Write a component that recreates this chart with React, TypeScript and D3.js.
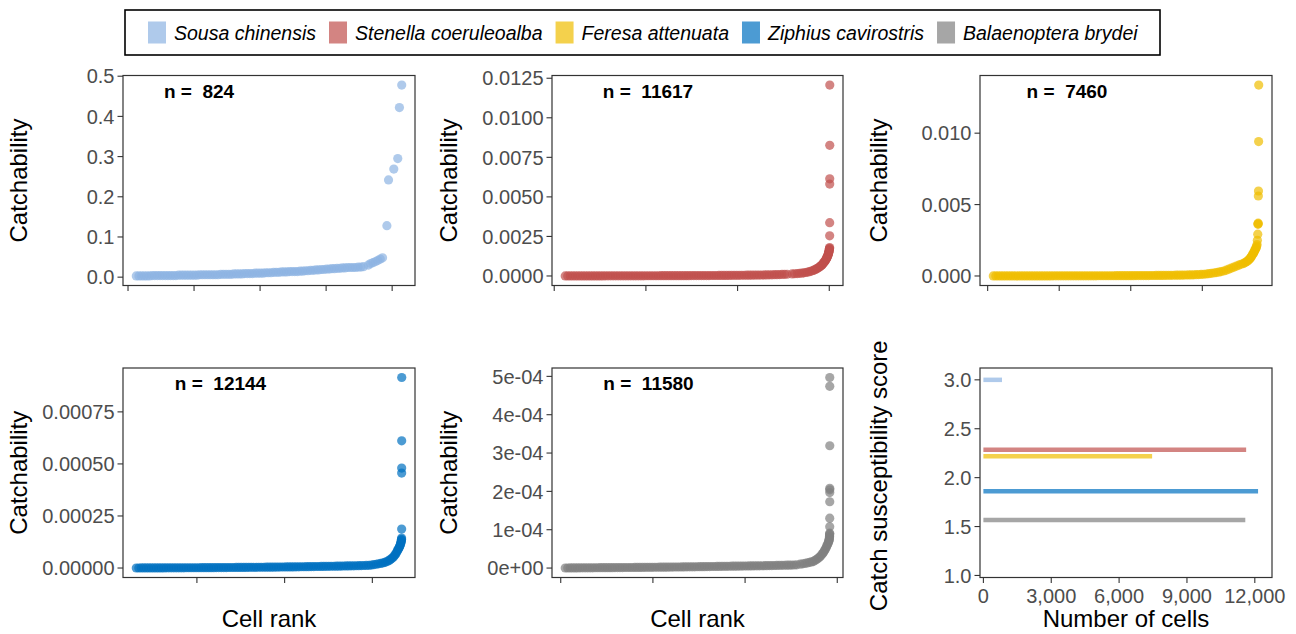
import React from "react";
import * as d3 from "d3";

// species, colours and the per-species totals
const species = [
  "Sousa chinensis",
  "Stenella coeruleoalba",
  "Feresa attenuata",
  "Ziphius cavirostris",
  "Balaenoptera brydei",
];
const colours = ["#8DB4E2", "#C0504D", "#F0BE00", "#0070C0", "#808080"];
const cellCounts = [824, 11617, 7460, 12144, 11580];
const susceptibility = [3.0, 2.286, 2.218, 1.861, 1.566];

// flat part of each ranked curve: readings taken at regular rank steps,
// values in `unit`s. The steep tail follows as explicit [rank, catchability] pairs.
const sousaBase = {
  start: 25, step: 8, unit: 0.001,
  values: [
    3, 3, 3, 3, 3, 3, 4, 4, 4, 4, 4, 4, 4, 4, 4, 4, 5, 5, 5, 5, 5, 5, 5, 5, 6, 6, 6, 6, 6, 6,
    6, 6, 7, 7, 7, 7, 7, 8, 8, 8, 8, 9, 9, 9, 9, 10, 10, 10, 10, 11, 11, 11, 12, 12, 12, 13,
    13, 13, 14, 14, 14, 14, 15, 15, 16, 16, 17, 17, 18, 18, 19, 19, 20, 20, 21, 21, 22, 22,
    23, 23, 24, 24, 24, 24, 25, 25, 26,
  ],
};
const sousaTail = [
  [728, 0.03], [735, 0.034], [742, 0.036], [750, 0.039], [757, 0.042], [764, 0.045],
  [771, 0.048], [784, 0.128], [789, 0.242], [805, 0.269], [817, 0.295], [822, 0.422],
  [829, 0.478],
];

const stenellaBase = {
  start: 480, step: 110, unit: 1e-6,
  values: [
    1, 1, 2, 2, 3, 3, 4, 4, 4, 4, 5, 5, 6, 6, 6, 6, 7, 7, 8, 8, 8, 8, 9, 9, 10, 10, 10, 10,
    11, 11, 12, 12, 13, 13, 14, 14, 15, 15, 16, 16, 17, 17, 18, 18, 19, 19, 20, 20, 21, 22,
    23, 23, 24, 25, 26, 26, 27, 28, 29, 30, 31, 32, 33, 34, 35, 36, 38, 39, 41, 42, 44, 46,
    48, 50, 52, 54, 57, 59, 62, 65, 68, 71, 75, 80, 85, 91, 97, 103, 110,
  ],
};
const stenellaTail = [
  [10380, 0.00013], [10490, 0.00014], [10600, 0.00015], [10700, 0.000165], [10800, 0.00018],
  [10890, 0.0002], [10980, 0.00022], [11060, 0.000245], [11140, 0.00027], [11220, 0.00031],
  [11300, 0.00035], [11360, 0.00039], [11420, 0.00043], [11470, 0.00047], [11520, 0.00052],
  [11570, 0.00056], [11610, 0.00061], [11650, 0.00066], [11680, 0.0007], [11710, 0.00075],
  [11740, 0.0008], [11765, 0.00085], [11790, 0.0009], [11815, 0.00095], [11840, 0.001],
  [11860, 0.00105], [11880, 0.0011], [11895, 0.00115], [11910, 0.0012], [11925, 0.00125],
  [11940, 0.0013], [11950, 0.00135], [11960, 0.0014], [11970, 0.00145], [11980, 0.0015],
  [11988, 0.00155], [11995, 0.0016], [12000, 0.00165], [12005, 0.0017], [12010, 0.00175],
  [12015, 0.0018], [12017, 0.00254], [12018, 0.00337], [12019, 0.00581], [12020, 0.00614],
  [12021, 0.00826], [12022, 0.01207],
];

const feresaBase = {
  start: 157, step: 70, unit: 1e-6,
  values: [
    2, 2, 2, 2, 3, 3, 3, 3, 4, 4, 4, 4, 5, 5, 5, 5, 6, 6, 6, 6, 7, 7, 7, 7, 8, 8, 8, 8, 9, 9,
    10, 10, 10, 10, 11, 11, 12, 12, 13, 13, 14, 14, 15, 15, 16, 16, 17, 17, 18, 19, 20, 20,
    21, 22, 23, 24, 25, 26, 27, 28, 29, 30, 32, 33, 35, 36, 38, 40, 42, 44, 46, 48, 51, 54,
    57, 60, 64, 68, 72, 77, 82, 90, 98,
  ],
};
const feresaTail = [
  [5967, 0.00011], [6037, 0.00012], [6107, 0.00014], [6177, 0.00016], [6247, 0.000185],
  [6317, 0.00021], [6387, 0.00024], [6457, 0.00027], [6527, 0.00031], [6597, 0.00035],
  [6667, 0.00041], [6737, 0.00048], [6807, 0.00055], [6877, 0.00062], [6947, 0.00069],
  [7017, 0.00076], [7080, 0.00082], [7147, 0.00087], [7185, 0.00092], [7220, 0.00098],
  [7255, 0.00104], [7287, 0.0011], [7315, 0.00118], [7340, 0.00125], [7360, 0.00132],
  [7381, 0.0014], [7400, 0.00148], [7420, 0.00155], [7435, 0.00162], [7450, 0.0017],
  [7465, 0.00178], [7480, 0.00185], [7495, 0.00192], [7510, 0.002], [7520, 0.0021],
  [7530, 0.0022], [7540, 0.0025], [7550, 0.00293], [7556, 0.00362], [7558, 0.00365],
  [7562, 0.0037], [7566, 0.0056], [7570, 0.00595], [7574, 0.00941], [7577, 0.01337],
];

const ziphiusBase = {
  start: 1235, step: 114, unit: 1e-7,
  values: [
    2, 2, 3, 3, 4, 4, 5, 5, 6, 6, 7, 7, 8, 8, 9, 9, 10, 10, 11, 11, 12, 12, 13, 13, 14, 14,
    15, 15, 16, 17, 18, 19, 20, 20, 21, 22, 23, 24, 25, 26, 27, 28, 29, 30, 31, 32, 33, 34,
    35, 36, 37, 38, 40, 41, 42, 43, 45, 46, 48, 49, 51, 52, 54, 55, 57, 58, 60, 62, 64, 66,
    68, 70, 72, 74, 76, 78, 80, 82, 84, 86, 89, 91, 94, 96, 99, 101, 104, 107, 110, 113,
    117, 121, 125,
  ],
};
const ziphiusTail = [
  [11840, 0.000013], [11950, 0.000014], [12060, 0.000016], [12170, 0.000018],
  [12275, 0.00002], [12380, 0.000022], [12470, 0.000024], [12560, 0.000027],
  [12640, 0.00003], [12720, 0.000034], [12790, 0.000038], [12850, 0.000043],
  [12905, 0.000048], [12960, 0.000053], [13005, 0.000059], [13050, 0.000065],
  [13085, 0.000071], [13120, 0.000078], [13150, 0.000084], [13180, 0.00009],
  [13205, 0.000095], [13230, 0.0001], [13250, 0.000105], [13270, 0.00011],
  [13285, 0.000115], [13300, 0.00012], [13310, 0.000125], [13320, 0.00013],
  [13325, 0.000134], [13330, 0.000138], [13335, 0.000144], [13336, 0.000187],
  [13337, 0.000456], [13338, 0.00048], [13339, 0.000611], [13340, 0.000915],
];

const balaenopteraBase = {
  start: 195, step: 108, unit: 1e-7,
  values: [
    2, 2, 3, 3, 4, 4, 5, 5, 6, 6, 7, 7, 8, 8, 9, 9, 10, 10, 11, 11, 12, 12, 13, 13, 14, 14,
    15, 15, 16, 16, 17, 17, 18, 19, 20, 20, 21, 21, 22, 23, 24, 24, 25, 26, 27, 27, 28, 29,
    30, 31, 32, 32, 33, 34, 35, 36, 37, 38, 39, 40, 41, 42, 43, 44, 45, 46, 47, 48, 49, 50,
    51, 52, 53, 54, 55, 56, 57, 58, 59, 60, 61, 62, 64, 65, 67, 68, 70, 71, 73, 74, 76, 78,
    80,
  ],
};
const balaenopteraTail = [
  [10240, 0.0000085], [10390, 0.00001], [10500, 0.000011], [10600, 0.000012],
  [10700, 0.0000135], [10800, 0.000015], [10880, 0.000016], [10958, 0.000017],
  [11030, 0.00002], [11100, 0.000022], [11160, 0.000025], [11220, 0.000028],
  [11270, 0.000031], [11322, 0.000035], [11370, 0.000038], [11410, 0.000042],
  [11445, 0.000045], [11480, 0.000049], [11510, 0.000052], [11539, 0.000056],
  [11565, 0.00006], [11590, 0.000063], [11610, 0.000066], [11625, 0.000069],
  [11640, 0.000071], [11652, 0.000074], [11658, 0.000077], [11662, 0.00008],
  [11665, 0.000083], [11668, 0.000086], [11670, 0.000089], [11672, 0.000091],
  [11673, 0.000108], [11673, 0.00013], [11674, 0.000173], [11674, 0.000197],
  [11674, 0.000204], [11675, 0.000208], [11675, 0.000319], [11675, 0.000474],
  [11675, 0.000497],
];

// tick values / labels
const sousaYTicks = [0, 0.1, 0.2, 0.3, 0.4, 0.5];
const stenellaYTicks = [0, 0.0025, 0.005, 0.0075, 0.01, 0.0125];
const feresaYTicks = [0, 0.005, 0.01];
const ziphiusYTicks = [0, 0.00025, 0.0005, 0.00075];
const balaenopteraYTicks = [0, 0.0001, 0.0002, 0.0003, 0.0004, 0.0005];
const balaenopteraYLabels = ["0e+00", "1e-04", "2e-04", "3e-04", "4e-04", "5e-04"];
const sousaXTicks = [0, 200, 400, 600, 800];
const stenellaXTicks = [0, 4000, 8000, 12000];
const feresaXTicks = [0, 2000, 4000, 6000];
const ziphiusXTicks = [4000, 8000, 12000];
const balaenopteraXTicks = [0, 4000, 8000, 12000];
const scoreTicks = [1, 1.5, 2, 2.5, 3];
const cellTicks = [0, 3000, 6000, 9000, 12000];

const FONT = "'Liberation Sans', Arial, Helvetica, sans-serif";
const TICK_TEXT = "#4D4D4D";
const LINE = "#333333";
const TICK_SIZE = 20;
const TITLE_SIZE = 24;

const COLS = [
  { x: 123, w: 292, title: 27 },
  { x: 552, w: 291, title: 457 },
  { x: 980, w: 292, title: 887 },
];
const ROWS = [
  { y: 75.5, h: 210 },
  { y: 368, h: 209.5 },
];

const expand = (ext, m = 0.05) => {
  const d = (ext[1] - ext[0]) * m;
  return [ext[0] - d, ext[1] + d];
};

const toPoints = (base, tail) =>
  base.values.map((v, i) => [base.start + i * base.step, v * base.unit]).concat(tail);

const YAxis = ({ y, ticks, labels, left }) => (
  <g>
    {ticks.map((t, i) => (
      <g key={i}>
        <line x1={left - 5.5} x2={left} y1={y(t)} y2={y(t)} stroke={LINE} strokeWidth={1.1} />
        <text
          x={left - 8.5}
          y={y(t)}
          dy="0.36em"
          textAnchor="end"
          fontSize={TICK_SIZE}
          fill={TICK_TEXT}
        >
          {labels[i]}
        </text>
      </g>
    ))}
  </g>
);

const XTicks = ({ x, ticks, bottom }) => (
  <g>
    {ticks.map((t, i) => (
      <line key={i} x1={x(t)} x2={x(t)} y1={bottom} y2={bottom + 5.5} stroke={LINE} strokeWidth={1.1} />
    ))}
  </g>
);

const YTitle = ({ x, y, text }) => (
  <text
    transform={`translate(${x}, ${y}) rotate(-90)`}
    textAnchor="middle"
    fontSize={TITLE_SIZE}
    fill="black"
  >
    {text}
  </text>
);

const ScatterPanel = ({ points, colour, n, xTicks, yTicks, yLabels, col, row, nOffset, xTitle }) => {
  const c = COLS[col];
  const r = ROWS[row];
  const x = d3
    .scaleLinear()
    .domain(expand(d3.extent(points, (d) => d[0])))
    .range([c.x, c.x + c.w]);
  const y = d3
    .scaleLinear()
    .domain(expand(d3.extent(points, (d) => d[1])))
    .range([r.y + r.h, r.y]);

  return (
    <g>
      <g>
        {points.map((d, i) => (
          <circle key={i} cx={x(d[0])} cy={y(d[1])} r={4.6} fill={colour} fillOpacity={0.7} />
        ))}
      </g>
      <rect x={c.x} y={r.y} width={c.w} height={r.h} fill="none" stroke={LINE} strokeWidth={1.2} />
      <YAxis y={y} ticks={yTicks} labels={yLabels} left={c.x} />
      <XTicks x={x} ticks={xTicks} bottom={r.y + r.h} />
      <text
        x={c.x + nOffset}
        y={r.y + 22}
        textAnchor="middle"
        fontSize={19}
        fontWeight="bold"
        fill="black"
        style={{ whiteSpace: "pre" }}
      >
        {`n =  ${n}`}
      </text>
      <YTitle x={c.title} y={r.y + r.h / 2} text="Catchability" />
      {xTitle && (
        <text x={c.x + c.w / 2} y={627} textAnchor="middle" fontSize={TITLE_SIZE} fill="black">
          {xTitle}
        </text>
      )}
    </g>
  );
};

const ScorePanel = () => {
  const c = COLS[2];
  const r = ROWS[1];
  const x = d3.scaleLinear().domain([-150, 12760]).range([c.x, c.x + c.w]);
  const y = d3.scaleLinear().domain([0.979, 3.121]).range([r.y + r.h, r.y]);
  const fmt = d3.format(",");
  const bottom = r.y + r.h;
  return (
    <g>
      {species.map((s, i) => (
        <line
          key={s}
          x1={x(0)}
          x2={x(cellCounts[i])}
          y1={y(susceptibility[i])}
          y2={y(susceptibility[i])}
          stroke={colours[i]}
          strokeOpacity={0.7}
          strokeWidth={4.5}
        />
      ))}
      <rect x={c.x} y={r.y} width={c.w} height={r.h} fill="none" stroke={LINE} strokeWidth={1.2} />
      <YAxis y={y} ticks={scoreTicks} labels={scoreTicks.map(d3.format(".1f"))} left={c.x} />
      <XTicks x={x} ticks={cellTicks} bottom={bottom} />
      {cellTicks.map((t) => (
        <text
          key={t}
          x={x(t)}
          y={bottom + 25}
          textAnchor="middle"
          fontSize={TICK_SIZE}
          fill={TICK_TEXT}
        >
          {fmt(t)}
        </text>
      ))}
      <YTitle x={c.title} y={r.y + r.h / 2 + 3} text="Catch susceptibility score" />
      <text x={c.x + c.w / 2} y={627} textAnchor="middle" fontSize={TITLE_SIZE} fill="black">
        Number of cells
      </text>
    </g>
  );
};

const measure = (() => {
  let ctx = null;
  return (text, font) => {
    if (!ctx) ctx = document.createElement("canvas").getContext("2d");
    ctx.font = font;
    return ctx.measureText(text).width;
  };
})();

const Legend = () => {
  const fontSize = 19.5;
  const font = `italic ${fontSize}px 'Liberation Sans', Arial, sans-serif`;
  let cursor = 148;
  const items = species.map((s, i) => {
    const keyX = cursor;
    const textX = keyX + 26;
    const w = measure(s, font);
    cursor = textX + w + 13;
    return { s, i, keyX, textX };
  });
  return (
    <g>
      <rect x={125} y={10} width={1035} height={45} fill="white" stroke="black" strokeWidth={1.6} />
      {items.map(({ s, i, keyX, textX }) => (
        <g key={s}>
          <rect x={keyX} y={21.5} width={18} height={22} fill={colours[i]} fillOpacity={0.7} />
          <text x={textX} y={39.5} fontSize={fontSize} fontStyle="italic" fill="black">
            {s}
          </text>
        </g>
      ))}
    </g>
  );
};

export default function App() {
  const fmt = (f) => (arr) => arr.map(d3.format(f));
  return (
    <svg
      width={1296}
      height={634}
      style={{ position: "absolute", left: 0, top: 0, display: "block", background: "white" }}
      fontFamily={FONT}
    >
      <rect width={1296} height={634} fill="white" />
      <Legend />
      <ScatterPanel
        points={toPoints(sousaBase, sousaTail)}
        colour={colours[0]}
        n={cellCounts[0]}
        xTicks={sousaXTicks}
        yTicks={sousaYTicks}
        yLabels={fmt(".1f")(sousaYTicks)}
        col={0}
        row={0}
        nOffset={76}
      />
      <ScatterPanel
        points={toPoints(stenellaBase, stenellaTail)}
        colour={colours[1]}
        n={cellCounts[1]}
        xTicks={stenellaXTicks}
        yTicks={stenellaYTicks}
        yLabels={fmt(".4f")(stenellaYTicks)}
        col={1}
        row={0}
        nOffset={96}
      />
      <ScatterPanel
        points={toPoints(feresaBase, feresaTail)}
        colour={colours[2]}
        n={cellCounts[2]}
        xTicks={feresaXTicks}
        yTicks={feresaYTicks}
        yLabels={fmt(".3f")(feresaYTicks)}
        col={2}
        row={0}
        nOffset={87}
      />
      <ScatterPanel
        points={toPoints(ziphiusBase, ziphiusTail)}
        colour={colours[3]}
        n={cellCounts[3]}
        xTicks={ziphiusXTicks}
        yTicks={ziphiusYTicks}
        yLabels={fmt(".5f")(ziphiusYTicks)}
        col={0}
        row={1}
        nOffset={97.5}
        xTitle="Cell rank"
      />
      <ScatterPanel
        points={toPoints(balaenopteraBase, balaenopteraTail)}
        colour={colours[4]}
        n={cellCounts[4]}
        xTicks={balaenopteraXTicks}
        yTicks={balaenopteraYTicks}
        yLabels={balaenopteraYLabels}
        col={1}
        row={1}
        nOffset={96.5}
        xTitle="Cell rank"
      />
      <ScorePanel />
    </svg>
  );
}
